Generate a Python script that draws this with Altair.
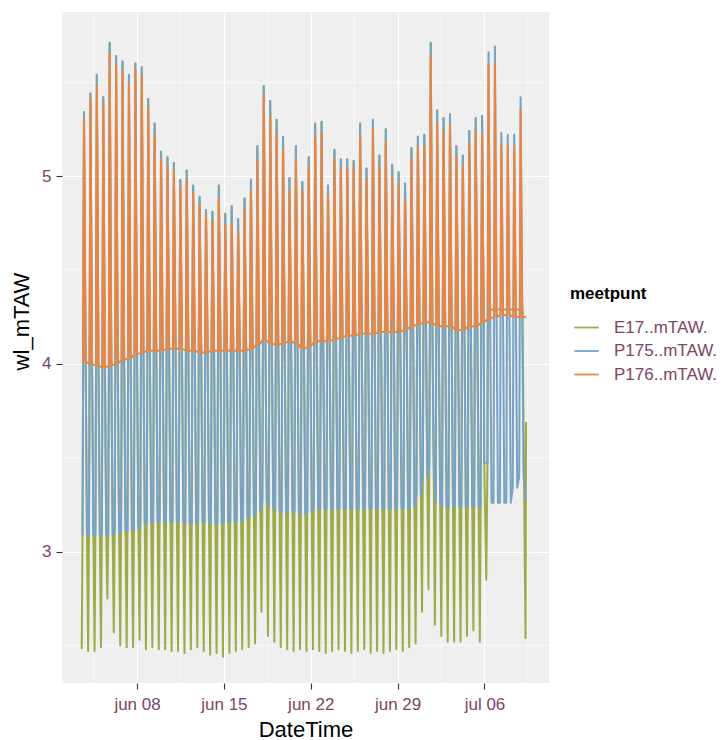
import altair as alt
import pandas as pd

# ---------------- data ----------------
SERIES = ["E17..mTAW.", "P175..mTAW.", "P176..mTAW."]
COLORS = ["#9DAA47", "#76A2C6", "#EC8441"]

first_peak = pd.Timestamp("2023-06-03 17:22")   # first high water
period_h = 12.42                                 # tidal period (hours)

# high-water peaks per tide (69 tides)
p176_peak = [5.30, 5.41, 5.48, 5.38, 5.65, 5.59, 5.56, 5.49, 5.57, 5.54,
             5.37, 5.22, 5.09, 5.05, 5.03, 4.95, 4.98, 4.91, 4.85, 4.79,
             4.76, 4.88, 4.74, 4.74, 4.70, 4.82, 4.92, 5.08, 5.43, 5.32,
             5.22, 5.14, 4.92, 5.09, 4.92, 5.05, 5.22, 5.23, 4.90, 5.09,
             5.04, 5.04, 5.04, 5.22, 4.98, 5.25, 5.05, 5.18, 4.99, 4.95,
             4.87, 5.09, 5.16, 5.16, 5.64, 5.28, 5.24, 5.27, 5.10, 5.05,
             5.17, 5.24, 5.22, 5.59, 5.60, 5.17, 5.16, 5.16, 5.35]
p175_peak = [5.34, 5.44, 5.54, 5.42, 5.71, 5.64, 5.61, 5.54, 5.60, 5.58,
             5.41, 5.28, 5.13, 5.10, 5.07, 4.98, 5.03, 4.95, 4.89, 4.82,
             4.81, 4.95, 4.80, 4.84, 4.77, 4.88, 4.98, 5.16, 5.48, 5.40,
             5.30, 5.21, 4.99, 5.16, 4.97, 5.10, 5.28, 5.29, 4.95, 5.14,
             5.09, 5.09, 5.08, 5.28, 5.04, 5.30, 5.11, 5.25, 5.06, 5.02,
             4.96, 5.15, 5.21, 5.22, 5.71, 5.35, 5.31, 5.33, 5.16, 5.11,
             5.24, 5.31, 5.32, 5.66, 5.69, 5.23, 5.22, 5.22, 5.42]
# dry level (floor) of the two marsh loggers per tide
p176_floor = [4.01, 4.00, 3.99, 3.98, 3.99, 4.00, 4.02, 4.03, 4.05, 4.06,
              4.07, 4.07, 4.07, 4.08, 4.08, 4.08, 4.07, 4.07, 4.06, 4.06,
              4.07, 4.07, 4.07, 4.07, 4.07, 4.07, 4.08, 4.10, 4.13, 4.11,
              4.10, 4.11, 4.12, 4.11, 4.08, 4.09, 4.12, 4.12, 4.12, 4.13,
              4.14, 4.15, 4.15, 4.16, 4.16, 4.16, 4.17, 4.17, 4.17, 4.17,
              4.18, 4.20, 4.21, 4.22, 4.22, 4.20, 4.20, 4.20, 4.18, 4.18,
              4.20, 4.20, 4.22, 4.24, 4.25, 4.26, 4.26, 4.25, 4.25]
p175_floor = [3.09, 3.09, 3.09, 3.09, 3.09, 3.10, 3.11, 3.11, 3.12, 3.15,
              3.15, 3.16, 3.16, 3.16, 3.16, 3.16, 3.15, 3.15, 3.16, 3.16,
              3.15, 3.15, 3.16, 3.16, 3.16, 3.18, 3.19, 3.21, 3.27, 3.24,
              3.22, 3.21, 3.22, 3.21, 3.20, 3.21, 3.23, 3.23, 3.23, 3.23,
              3.23, 3.23, 3.23, 3.23, 3.23, 3.23, 3.23, 3.23, 3.23, 3.23,
              3.23, 3.24, 3.30, 3.40, 3.45, 3.26, 3.24, 3.24, 3.24, 3.24,
              3.24, 3.24, 3.24, 3.26, 3.26, 3.26, 3.26, 3.34, 3.40]
# low waters of E17 (logger stops after tide 63, one last reading at the end)
e17_low = [2.48, 2.47, 2.47, 2.49, 2.75, 2.57, 2.50, 2.49, 2.49, 2.53,
           2.48, 2.49, 2.48, 2.48, 2.47, 2.47, 2.46, 2.48, 2.49, 2.47,
           2.45, 2.46, 2.44, 2.46, 2.47, 2.48, 2.49, 2.51, 2.68, 2.55,
           2.52, 2.49, 2.48, 2.47, 2.48, 2.47, 2.48, 2.47, 2.46, 2.47,
           2.48, 2.47, 2.46, 2.47, 2.48, 2.46, 2.47, 2.46, 2.47, 2.48,
           2.47, 2.49, 2.51, 2.68, 2.80, 2.61, 2.55, 2.52, 2.52, 2.52,
           2.55, 2.58, 2.52, 2.85]
e17_gap_level = 4.29     # straight segment drawn across the E17 gap
e17_last = [2.54, 3.69]  # last E17 low and last reading
p175_gap_level = 3.47    # short P175 gap between tides 62 and 63
p175_last = 3.27

minor_t = ["2023-06-04 12:00", "2023-06-11 12:00", "2023-06-18 12:00",
           "2023-06-25 12:00", "2023-07-02 12:00", "2023-07-09 12:00"]
minor_y = [2.5, 3.5, 4.5, 5.5]
tick_dates = [(6, 8), (6, 15), (6, 22), (6, 29), (7, 6)]

# ---------------- build the long table ----------------
N = len(p176_peak)
R_O, F_O = -1.6, 3.2      # P176 leaves / returns to its floor (h from HW)
R_B, F_B = -2.8, 5.8      # P175 leaves / returns to its floor
R_E = -4.4                # E17 low water (h before HW)


def t(k, off):
    return first_peak + pd.Timedelta(hours=k * period_h + off)


rows = []


def add(series, pts):
    for tt, v in pts:
        rows.append({"DateTime": tt, "wl_mTAW": v, "meetpunt": series})


# P176
pts = [(t(0, -3.5), p176_floor[0])]
for k in range(N):
    pts += [(t(k, R_O), p176_floor[k]), (t(k, 0), p176_peak[k]), (t(k, F_O), p176_floor[k])]
pts.append((t(N - 1, 10.5), p176_floor[-1]))
p176_pts = pts

# P175
pts = [(t(0, -3.5), p175_floor[0])]
for k in range(N):
    rise = [(t(k, R_B), p175_floor[k])] if k != 63 else [(t(k, -2.0), p175_gap_level)]
    fall = [(t(k, F_B), p175_floor[k])] if k != 62 else [(t(k, 4.2), p175_gap_level)]
    pts += rise + [(t(k, R_O), p176_floor[k]), (t(k, 0), p175_peak[k]),
                   (t(k, F_O), p176_floor[k])] + fall
pts.append((t(N - 1, 9.5), p175_last))
p175_pts = pts

# E17
pts = []
for k in range(len(e17_low)):
    if k < 63:
        fall = [(t(k, F_B), p175_floor[k])] if k != 62 else [(t(k, 4.2), p175_gap_level)]
        pts += [(t(k, R_E), e17_low[k]), (t(k, R_B), p175_floor[k]),
                (t(k, R_O), p176_floor[k]), (t(k, 0), p175_peak[k]),
                (t(k, F_O), p176_floor[k])] + fall
    else:
        pts += [(t(k, R_E), e17_low[k]), (t(k, -2.0), p175_gap_level),
                (t(k, -1.0), e17_gap_level)]
pts += [(t(N - 1, 3.5), e17_gap_level), (t(N - 1, 9.5), e17_last[0]),
        (t(N - 1, 10.6), e17_last[1])]
e17_pts = pts

add(SERIES[0], e17_pts)
add(SERIES[1], p175_pts)
add(SERIES[2], p176_pts)
df = pd.DataFrame(rows)

# ---------------- chart ----------------
FONT = "Liberation Sans"
LABEL_COL = "#7B4565"
x_dom = [alt.DateTime(year=2023, month=6, date=1, hours=22, minutes=50),
         alt.DateTime(year=2023, month=7, date=11, hours=4, minutes=50)]
y_dom = [2.300, 5.874]

xscale = alt.Scale(domain=x_dom, nice=False)
yscale = alt.Scale(domain=y_dom, nice=False, zero=False)
cscale = alt.Scale(domain=SERIES, range=COLORS)

x_axis = alt.Axis(
    title="DateTime",
    values=[alt.DateTime(year=2023, month=m, date=d) for m, d in tick_dates],
    labelExpr="lower(timeFormat(datum.value, '%b %d'))",
)
y_axis = alt.Axis(title="wl_mTAW", values=[3, 4, 5], format="d", titleY=309)

minor_x_df = pd.DataFrame({"DateTime": pd.to_datetime(minor_t)})
minor_y_df = pd.DataFrame({"wl_mTAW": minor_y})

vgrid = alt.Chart(minor_x_df).mark_rule(color="white", strokeWidth=0.6).encode(
    x=alt.X("DateTime:T", scale=xscale, axis=x_axis))
hgrid = alt.Chart(minor_y_df).mark_rule(color="white", strokeWidth=0.6).encode(
    y=alt.Y("wl_mTAW:Q", scale=yscale, axis=y_axis))

legend = alt.Legend(
    title="meetpunt", orient="none", legendX=508, legendY=274,
    symbolType="stroke", symbolSize=600, symbolStrokeWidth=1.8, symbolOffset=3,
    labelFontSize=17, labelColor=LABEL_COL, labelFont=FONT, labelOffset=14,
    titleFontSize=17, titleFont=FONT, titleFontWeight="bold", titleColor="black",
    titlePadding=11, rowPadding=1.5, padding=0,
)


def line(name):
    return alt.Chart(df[df["meetpunt"] == name]).mark_line(
        strokeWidth=2.0, strokeJoin="round").encode(
        x=alt.X("DateTime:T", scale=xscale, axis=x_axis),
        y=alt.Y("wl_mTAW:Q", scale=yscale, axis=y_axis),
        color=alt.Color("meetpunt:N", scale=cscale, legend=legend),
        order=alt.Order("DateTime:T"),
    )


chart = alt.layer(vgrid, hgrid, line(SERIES[0]), line(SERIES[1]), line(SERIES[2])).properties(
    width=487, height=671,
    autosize=alt.AutoSizeParams(type="none"),
    padding={"left": 62, "top": 12, "right": 174, "bottom": 57},
    background="white",
).configure_view(fill="#EFEFEF", stroke=None).configure_axis(
    domain=False, grid=True, gridColor="white", gridWidth=1.2,
    tickColor="#333333", tickSize=6, tickWidth=1.1,
    labelFont=FONT, labelFontSize=17, labelColor=LABEL_COL, labelPadding=5,
    titleFont=FONT, titleFontSize=22, titleFontWeight="normal", titleColor="black",
).configure_axisX(labelPadding=7, titlePadding=7).configure_axisY(titlePadding=8)

chart.save("out.html", embed_options={"renderer": "svg", "actions": False})
